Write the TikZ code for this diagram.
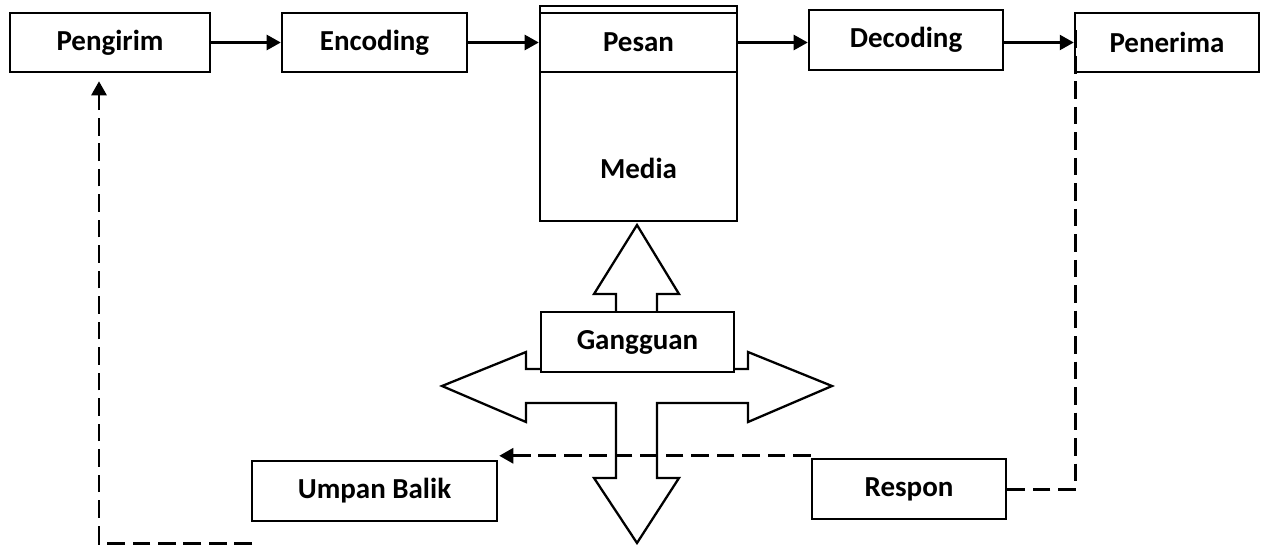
\documentclass[tikz,border=0pt]{standalone}
\usepackage{fontspec}
\setmainfont{Carlito}
\usepackage{tikz}
\usetikzlibrary{arrows.meta,calc}

\tikzset{
  box/.style={draw, line width=1.4pt, fill=white, inner sep=0pt,
    minimum height=1.18cm, font=\fontsize{16.5}{20}\selectfont\bfseries},
  flow/.style={line width=1.5pt, -{Triangle[length=8pt,width=8.5pt]}},
  fb/.style={line width=1.7pt, dash pattern=on 10pt off 4.5pt},
}

\begin{document}
\begin{tikzpicture}[x=0.02cm, y=-0.02cm]
    \useasboundingbox (0,0) rectangle (1273,544);

    % Top row
    \node[box, minimum width=4cm] (pengirim) at (110,42.5) {Pengirim};
    \node[box, minimum width=3.7cm] (encoding) at (374.5,42.5) {Encoding};
    \node[box, minimum width=3.94cm, minimum height=4.3cm] (media) at (638.5,113.5) {};
    \node[font=\fontsize{16.5}{20}\selectfont\bfseries] (medialbl) at (638.5,168) {Media};
    \node[box, minimum width=3.94cm] (pesan) at (638.5,42.5) {Pesan};
    \node[box, minimum width=3.88cm, minimum height=1.2cm] (decoding) at (906,40) {Decoding};
    \node[box, minimum width=3.68cm] (penerima) at (1167,42.5) {Penerima};

    \draw[flow] (pengirim.east) -- (encoding.west);
    \draw[flow] (encoding.east) -- (pesan.west);
    \draw[flow] (pesan.east) -- (pesan.east -| decoding.west);
    \draw[flow] (pesan.east -| decoding.east) -- (penerima.west);

    % Noise arrows
    \draw[line width=1.3pt, fill=white]
      (616,369) -- (616,294) -- (594,294) -- (637,225) -- (679,294) -- (657,294)
      -- (657,369) -- (748,369) -- (748,352) -- (832,386) -- (748,422) -- (748,403)
      -- (657,403) -- (657,478) -- (679,478) -- (637,543) -- (594,478) -- (616,478)
      -- (616,403) -- (526,403) -- (526,422) -- (442,386) -- (526,352) -- (526,369)
      -- cycle;
    \node[box, minimum width=3.86cm, minimum height=1.2cm] (gangguan) at (637.5,342) {Gangguan};

    % Feedback
    \node[box, minimum width=4.9cm, minimum height=1.2cm] (umpan) at (374.5,491) {Umpan Balik};
    \node[box, minimum width=3.88cm, minimum height=1.2cm] (respon) at (909,489) {Respon};
    \coordinate (fbstart) at (252,543);

    \draw[fb] ($(penerima.west)+(2,-12)$) |- (respon.east);
    \draw[fb, -{Triangle[length=8pt,width=8.5pt]}] ($(respon.north west)+(0,-2)$) -- ($(umpan.north east)+(1,-4)$);
    \draw[fb, -{Triangle[length=8pt,width=8.5pt]}] (fbstart) -| ($(pengirim.south)+(-11,8)$);
\end{tikzpicture}
\end{document}
